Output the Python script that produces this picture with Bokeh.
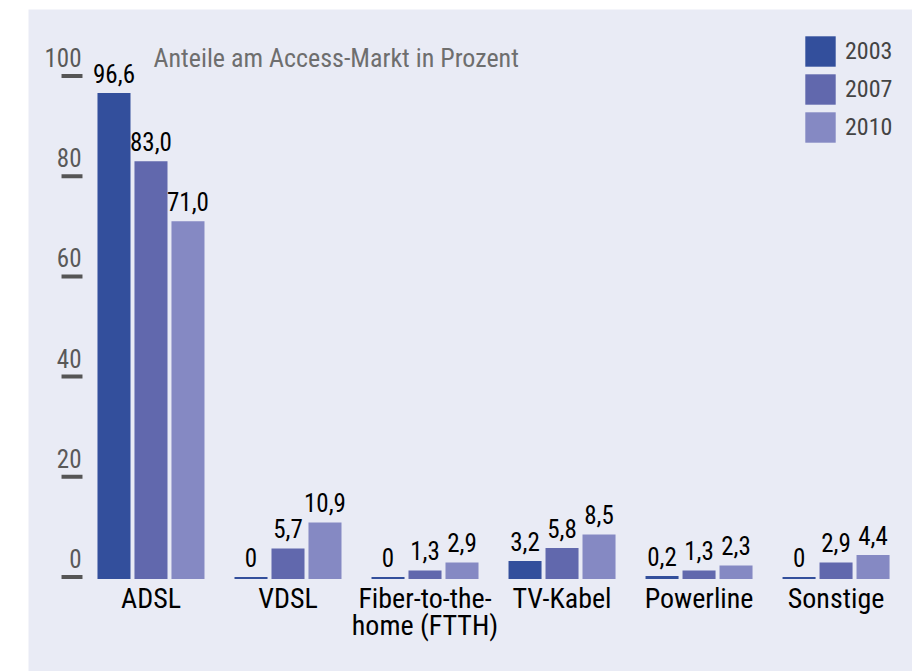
import numpy as np
from bokeh.plotting import figure
from bokeh.models import Range1d, ColumnDataSource, Legend, LegendItem
from bokeh.core.properties import value
from bokeh.embed import file_html
from bokeh.resources import INLINE

# ---- data ----
categories = ["ADSL", "VDSL", "Fiber-to-the-\nhome (FTTH)", "TV-Kabel", "Powerline", "Sonstige"]
years = ["2003", "2007", "2010"]
v2003 = [96.6, 0.0, 0.0, 3.2, 0.2, 0.0]
v2007 = [83.0, 5.7, 1.3, 5.8, 1.3, 2.9]
v2010 = [71.0, 10.9, 2.9, 8.5, 2.3, 4.4]
y_ticks = [0, 20, 40, 60, 80, 100]
title_text = "Anteile am Access-Markt in Prozent"

colors = ["#334f9c", "#6168ad", "#8589c3"]
BG = "#e9ebf5"
FONT = "Roboto Condensed, DejaVu Sans Condensed, sans-serif"

def fmt(v):
    return "0" if v == 0 else f"{v:.1f}".replace(".", ",")

p = figure(width=912, height=671, output_backend="svg", toolbar_location=None,
           x_range=Range1d(-0.894, 5.558), y_range=Range1d(-18.86, 113.27),
           x_axis_location=None, y_axis_location=None,
           min_border_left=28, min_border_top=9, min_border_right=0, min_border_bottom=0)
p.background_fill_color = BG
p.border_fill_color = "white"
p.outline_line_color = None
p.grid.visible = False

idx = np.arange(len(categories))
offsets = [-0.270, 0.0, 0.270]
renderers = []
for vals, off, col in zip([v2003, v2007, v2010], offsets, colors):
    src = ColumnDataSource(dict(x=idx + off, top=vals, lab=[fmt(v) for v in vals]))
    r = p.vbar(x="x", top="top", bottom=-0.4, width=0.241, source=src,
               fill_color=col, line_color=None)
    renderers.append(r)
    p.text(x="x", y="top", text="lab", source=src, text_font=value(FONT),
           text_font_size="25px", text_color="black", text_align="center",
           text_baseline="bottom", y_offset=-10)

# category labels
csrc = ColumnDataSource(dict(x=idx, y=[0] * len(categories), t=categories))
p.text(x="x", y="y", text="t", source=csrc, text_font=value(FONT),
       text_font_size="28px", text_color="black", text_align="center",
       text_baseline="top", y_offset=5, text_line_height=0.82)

# y ticks (dash + label above)
tsrc = ColumnDataSource(dict(y=y_ticks, t=[str(t) for t in y_ticks]))
p.segment(x0=-0.653, x1=-0.5, y0="y", y1="y", source=tsrc, line_color="#555555", line_width=4)
p.text(x=-0.5, y="y", text="t", source=tsrc, text_font=value(FONT), text_font_size="25px",
       text_color="#595959", text_align="right", text_baseline="bottom",
       x_offset=-1, y_offset=-9)

# title
p.text(x=[0.018], y=[100.6], text=[title_text], text_font=value(FONT), text_font_size="26px",
       text_color="#6e6e6e", text_align="left", text_baseline="bottom")

legend = Legend(items=[LegendItem(label=y, renderers=[r]) for y, r in zip(years, renderers)],
                location=(773, 525), glyph_width=38, glyph_height=38, spacing=-2,
                label_standoff=6, label_text_font=FONT, label_text_font_size="24px",
                label_height=38, padding=0, margin=0,
                background_fill_alpha=0, border_line_color=None)
p.add_layout(legend)

open("out.html", "w").write(file_html(p, INLINE))
